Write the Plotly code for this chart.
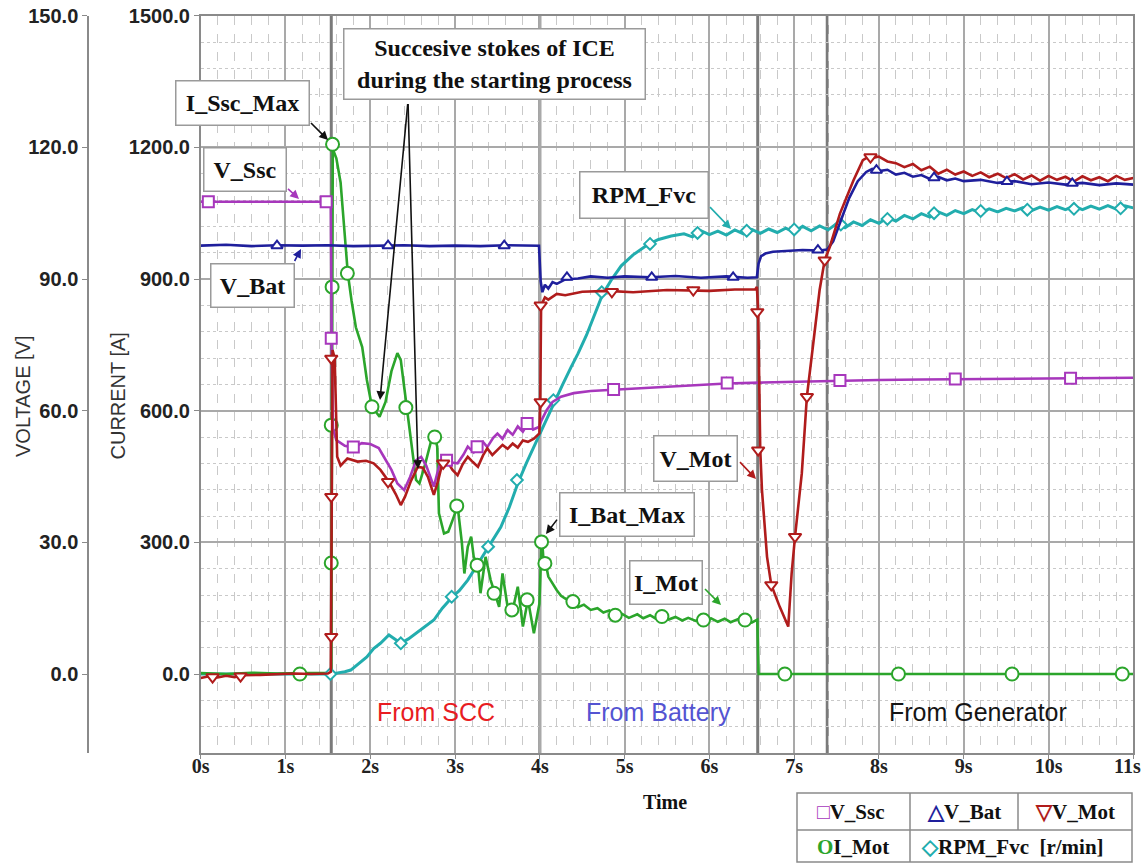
import plotly.graph_objects as go

W, H = 1144, 866

# ---------------- data ----------------
# Voltages [V]
T_SSC = [
    0.00, 0.30, 0.60, 0.90, 1.20, 1.50, 1.535, 1.545, 1.56, 1.60,
    1.70, 1.80, 1.90, 2.00, 2.10, 2.16, 2.25, 2.32, 2.40, 2.47,
    2.54, 2.60, 2.66, 2.75, 2.83, 2.90, 2.96, 3.03, 3.10, 3.15,
    3.22, 3.27, 3.33, 3.38, 3.45, 3.50, 3.56, 3.62, 3.68, 3.74,
    3.80, 3.86, 3.92, 3.99, 4.02, 4.08, 4.15, 4.25, 4.40, 4.60,
    4.90, 5.30, 5.80, 6.20, 6.60, 7.00, 7.50, 8.00, 8.50, 9.00,
    9.50, 10.0, 10.5, 11.0]
V_SSC = [
    107.6, 107.6, 107.7, 107.6, 107.6, 107.6, 107.6, 76.0, 56.0, 53.3,
    52.0, 51.6, 52.6, 52.4, 51.5, 49.5, 46.5, 43.4, 41.9, 44.9,
    48.7, 49.5, 47.5, 42.7, 48.7, 48.9, 48.2, 48.0, 50.0, 51.8,
    50.5, 51.8, 52.9, 51.7, 53.8, 54.8, 53.6, 55.6, 54.5, 56.4,
    55.2, 57.1, 55.7, 56.3, 57.8, 60.1, 62.0, 63.2, 64.0, 64.5,
    64.8, 65.3, 65.7, 66.2, 66.4, 66.6, 66.8, 67.0, 67.1, 67.2,
    67.3, 67.4, 67.4, 67.5]

T_BAT = [
    0.00, 0.30, 0.60, 0.90, 1.20, 1.50, 1.80, 2.10, 2.40, 2.70,
    3.00, 3.30, 3.60, 3.99, 4.01, 4.03, 4.06, 4.10, 4.15, 4.20,
    4.30, 4.45, 4.60, 4.80, 5.00, 5.30, 5.60, 5.90, 6.20, 6.45,
    6.56, 6.58, 6.61, 6.66, 6.75, 6.90, 7.10, 7.30, 7.39, 7.46,
    7.55, 7.65, 7.75, 7.85, 7.92, 8.00, 8.10, 8.20, 8.30, 8.40,
    8.50, 8.60, 8.70, 8.80, 8.90, 9.00, 9.20, 9.40, 9.60, 9.80,
    10.0, 10.2, 10.4, 10.6, 10.8, 11.0]
V_BAT = [
    97.6, 97.8, 97.5, 97.7, 97.6, 97.7, 97.5, 97.6, 97.7, 97.5,
    97.6, 97.5, 97.7, 97.6, 89.5, 87.0, 88.7, 87.8, 89.3, 88.9,
    89.9, 90.1, 90.6, 90.3, 90.6, 90.4, 90.7, 90.3, 90.6, 90.3,
    90.4, 93.5, 95.2, 95.8, 96.2, 96.4, 96.6, 96.5, 96.7, 98.6,
    103.5, 108.5, 112.3, 114.4, 115.1, 114.6, 114.9, 113.8, 114.2, 113.3,
    113.7, 112.8, 113.3, 112.5, 112.9, 112.3, 112.6, 111.9, 112.3, 111.6,
    112.0, 111.5, 111.9, 111.4, 111.8, 111.5]

T_MOT = [
    0.00, 0.10, 0.20, 0.30, 0.40, 0.50, 0.70, 0.90, 1.10, 1.30,
    1.50, 1.535, 1.545, 1.555, 1.58, 1.61, 1.65, 1.73, 1.85, 1.95,
    2.04, 2.12, 2.22, 2.30, 2.36, 2.41, 2.48, 2.56, 2.62, 2.68,
    2.75, 2.80, 2.85, 2.91, 2.97, 3.03, 3.09, 3.15, 3.21, 3.27,
    3.33, 3.38, 3.44, 3.50, 3.56, 3.62, 3.68, 3.74, 3.80, 3.86,
    3.93, 3.995, 4.005, 4.015, 4.03, 4.06, 4.10, 4.20, 4.30, 4.50,
    4.80, 5.10, 5.50, 6.00, 6.30, 6.54, 6.56, 6.575, 6.60, 6.62,
    6.68, 6.73, 6.83, 6.93, 6.97, 7.01, 7.09, 7.15, 7.23, 7.30,
    7.36, 7.42, 7.54, 7.70, 7.81, 7.88, 7.93, 8.00, 8.10, 8.20,
    8.30, 8.40, 8.50, 8.60, 8.70, 8.80, 8.90, 9.00, 9.10, 9.20,
    9.30, 9.40, 9.50, 9.60, 9.70, 9.80, 9.90, 10.0, 10.1, 10.2,
    10.3, 10.4, 10.5, 10.6, 10.7, 10.8, 10.9, 11.0]
V_MOT = [
    -0.9, -0.5, -0.8, -0.4, -0.7, -0.3, -0.2, 0.0, 0.1, 0.0,
    0.1, 0.5, 40.0, 73.8, 72.0, 49.5, 47.5, 49.1, 48.4, 48.6,
    48.0, 46.5, 43.8, 41.0, 38.5, 40.4, 44.0, 47.2, 47.0, 44.9,
    40.8, 44.0, 48.0, 48.4, 46.5, 45.3, 47.8, 49.5, 48.3, 47.2,
    49.8, 51.4, 49.9, 51.0, 52.2, 51.3, 52.5, 51.6, 53.2, 52.9,
    53.6, 54.8, 62.0, 84.0, 84.6, 85.8, 85.3, 86.6, 86.3, 87.1,
    87.3, 87.0, 87.5, 87.3, 87.6, 87.6, 88.2, 83.0, 51.0, 41.9,
    26.7, 20.3, 15.3, 10.8, 22.9, 31.3, 45.7, 63.2, 76.1, 87.5,
    94.3, 97.3, 104.9, 112.5, 117.1, 117.9, 117.6, 117.9, 116.8, 116.4,
    115.5, 116.2, 114.8, 115.6, 114.0, 114.9, 113.8, 114.5, 113.5, 114.3,
    113.2, 114.0, 113.0, 113.9, 112.7, 113.6, 112.4, 113.5, 112.6, 113.3,
    112.2, 113.4, 112.5, 113.2, 112.3, 113.5, 112.6, 113.0]

# Currents [A]
T_IMOT = [
    0.00, 0.30, 0.60, 0.90, 1.20, 1.50, 1.54, 1.552, 1.558, 1.57,
    1.60, 1.65, 1.70, 1.735, 1.78, 1.83, 1.905, 1.96, 2.02, 2.11,
    2.18, 2.25, 2.32, 2.36, 2.40, 2.43, 2.47, 2.54, 2.58, 2.65,
    2.73, 2.76, 2.79, 2.81, 2.87, 2.92, 2.97, 3.03, 3.08, 3.11,
    3.15, 3.19, 3.22, 3.27, 3.30, 3.36, 3.42, 3.47, 3.52, 3.56,
    3.62, 3.68, 3.74, 3.80, 3.86, 3.93, 3.97, 3.995, 4.02, 4.035,
    4.05, 4.07, 4.10, 4.15, 4.20, 4.25, 4.30, 4.39, 4.45, 4.52,
    4.60, 4.68, 4.75, 4.82, 4.89, 4.96, 5.05, 5.15, 5.22, 5.30,
    5.37, 5.44, 5.52, 5.60, 5.68, 5.75, 5.84, 5.93, 6.02, 6.10,
    6.18, 6.25, 6.34, 6.42, 6.50, 6.565, 6.58, 7.00, 8.00, 9.00,
    10.0, 11.0]
I_MOT = [
    2, 0, 3, 1, 2, 2, 5, 900, 1207, 1190,
    1175, 1120, 1000, 913, 850, 790, 745, 670, 609, 586,
    620, 690, 731, 715, 654, 608, 556, 442, 434, 480,
    540, 542, 518, 366, 320, 324, 350, 383, 300, 229,
    290, 313, 267, 248, 184, 267, 214, 184, 153, 229,
    153, 146, 199, 108, 169, 93, 138, 160, 301, 282,
    240, 252, 222, 205, 191, 178, 172, 165, 152, 158,
    146, 150, 140, 145, 134, 138, 128, 136, 127, 134,
    126, 131, 124, 130, 122, 128, 121, 123, 127, 119,
    126, 118, 125, 123, 117, 124, 0, 0, 0, 0,
    0, 0]

# Speed [r/min] (drawn on the current scale)
T_RPM = [
    0.00, 0.50, 1.00, 1.54, 1.60, 1.70, 1.77, 1.85, 1.96, 2.04,
    2.12, 2.22, 2.30, 2.36, 2.45, 2.55, 2.65, 2.75, 2.85, 2.97,
    3.05, 3.15, 3.25, 3.40, 3.54, 3.64, 3.74, 3.84, 3.93, 4.00,
    4.08, 4.17, 4.27, 4.37, 4.45, 4.55, 4.64, 4.74, 4.85, 4.96,
    5.10, 5.27, 5.40, 5.55, 5.70, 5.80, 5.90, 6.00, 6.10, 6.20,
    6.30, 6.40, 6.50, 6.60, 6.70, 6.80, 6.90, 7.00, 7.10, 7.20,
    7.30, 7.40, 7.50, 7.60, 7.70, 7.80, 7.90, 8.00, 8.10, 8.20,
    8.30, 8.40, 8.50, 8.60, 8.70, 8.80, 8.90, 9.00, 9.10, 9.20,
    9.30, 9.40, 9.50, 9.60, 9.70, 9.80, 9.90, 10.0, 10.1, 10.2,
    10.3, 10.4, 10.5, 10.6, 10.7, 10.8, 10.9, 11.0]
RPM = [
    0, 0, 0, 0, 2, 5, 9, 22, 39, 58,
    70, 89, 78, 70, 80, 95, 108, 123, 150, 176,
    190, 214, 245, 290, 335, 380, 434, 480, 518, 545,
    580, 620, 660, 700, 730, 772, 815, 865, 900, 930,
    955, 978, 990, 998, 1003, 996, 1010, 1001, 1009, 1000,
    1012, 1003, 1013, 1004, 1014, 1006, 1016, 1007, 1020, 1010,
    1021, 1012, 1026, 1017, 1030, 1022, 1035, 1027, 1040, 1032,
    1045, 1037, 1049, 1041, 1053, 1045, 1056, 1049, 1058, 1051,
    1060, 1053, 1061, 1055, 1063, 1056, 1064, 1057, 1065, 1058,
    1066, 1058, 1066, 1059, 1067, 1059, 1067, 1062]

# Marker points
SSC_MK_T = [0.09, 1.48, 1.54, 1.80, 2.90, 3.26, 3.85, 4.87, 6.21, 7.54, 8.90, 10.26]
SSC_MK_V = [107.6, 107.6, 76.5, 51.7, 48.7, 51.8, 57.1, 64.8, 66.3, 66.9, 67.2, 67.4]
BAT_MK_T = [0.90, 2.21, 3.58, 4.32, 5.32, 6.28, 7.28, 7.97, 8.65, 9.51, 10.28]
BAT_MK_V = [97.6, 97.6, 97.6, 90.4, 90.4, 90.4, 96.6, 114.8, 113.1, 112.2, 111.8]
MOT_MK_T = [0.14, 0.47, 1.54, 1.54, 1.54, 2.21, 2.86, 4.01, 4.01, 4.85, 5.81,
            6.565, 6.575, 6.73, 7.01, 7.15, 7.36, 7.90]
MOT_MK_V = [-0.7, -0.5, 8.5, 40.4, 71.9, 43.8, 48.0, 62.0, 84.0, 87.1, 87.5,
            82.5, 51.0, 20.3, 31.3, 63.2, 94.3, 117.8]
IM_MK_T = [1.17, 1.54, 1.54, 1.55, 1.555, 1.73, 2.02, 2.42, 2.76, 3.02, 3.26, 3.46,
           3.67, 3.85, 4.02, 4.06, 4.39, 4.89, 5.44, 5.93, 6.42, 6.89, 8.23, 9.57, 10.87]
IM_MK_A = [0, 253, 567, 882, 1207, 913, 609, 607, 540, 383, 248, 184,
           146, 169, 301, 252, 165, 134, 131, 123, 123, 0, 0, 0, 0]
RPM_MK_T = [1.53, 2.36, 2.96, 3.39, 3.73, 4.16, 4.73, 5.30, 5.86, 6.44, 7.00,
            7.55, 8.10, 8.65, 9.20, 9.75, 10.30, 10.85]
RPM_MK_A = [0, 70, 176, 290, 442, 624, 870, 980, 1005, 1010, 1013,
            1024, 1037, 1050, 1055, 1058, 1060, 1061]

# Stage boundaries [s]
STAGE_T = [1.54, 4.0, 6.57, 7.39]

# ---------------- layout helpers ----------------
def px(x):
    return x / W


def py(y):
    return 1 - y / H


X0, X1 = 200.7, 1133.3     # plot area left/right (pixels)
Y_TOP, Y_BOT = 15.7, 753.0  # plot area top/bottom (pixels)

C_SSC = "#a737bc"
C_BAT = "#1f1f9c"
C_MOT = "#b01c1c"
C_IMOT = "#2ba52b"
C_RPM = "#22adae"
GRID = "#a9a9a9"
MINOR = "#c9c9c9"

fig = go.Figure()


def line(t, v, color, yaxis, width=2.6):
    fig.add_trace(go.Scatter(x=t, y=v, mode="lines", yaxis=yaxis,
                             line=dict(color=color, width=width), hoverinfo="skip"))


def marks(t, v, color, symbol, size, yaxis):
    fig.add_trace(go.Scatter(x=t, y=v, mode="markers", yaxis=yaxis,
                             marker=dict(symbol=symbol, size=size, color="white",
                                         line=dict(color=color, width=2)),
                             hoverinfo="skip"))


line(T_RPM, RPM, C_RPM, "y", 3)
line(T_SSC, V_SSC, C_SSC, "y2")
line(T_BAT, V_BAT, C_BAT, "y2")
line(T_MOT, V_MOT, C_MOT, "y2")
line(T_IMOT, I_MOT, C_IMOT, "y")
marks(RPM_MK_T, RPM_MK_A, C_RPM, "diamond", 9, "y")
marks(SSC_MK_T, SSC_MK_V, C_SSC, "square", 11, "y2")
marks(BAT_MK_T, BAT_MK_V, C_BAT, "triangle-up", 10, "y2")
marks(MOT_MK_T, MOT_MK_V, C_MOT, "triangle-down", 11, "y2")
marks(IM_MK_T, IM_MK_A, C_IMOT, "circle", 13, "y")

NUMFONT = dict(family="Liberation Sans", size=20, color="#222", weight="bold")
SERIF = "Liberation Serif"
XTICKFONT = dict(family=SERIF, size=20, color="#222", weight="bold")

shapes = []
for t in STAGE_T:
    shapes.append(dict(type="line", xref="x", yref="paper", x0=t, x1=t,
                       y0=py(Y_BOT), y1=py(Y_TOP), line=dict(color="#7a7a7a", width=3),
                       layer="below"))

# legend table (bottom right)
LX0, LX1, LY0, LYM, LY1 = 797, 1132, 793, 830, 862
shapes.append(dict(type="rect", xref="paper", yref="paper", x0=px(LX0), x1=px(LX1),
                   y0=py(LY1), y1=py(LY0), line=dict(color="#8a8a8a", width=1.5)))
shapes.append(dict(type="line", xref="paper", yref="paper", x0=px(LX0), x1=px(LX1),
                   y0=py(LYM), y1=py(LYM), line=dict(color="#8a8a8a", width=1.5)))
shapes.append(dict(type="line", xref="paper", yref="paper", x0=px(910), x1=px(910),
                   y0=py(LY1), y1=py(LY0), line=dict(color="#8a8a8a", width=1.5)))
shapes.append(dict(type="line", xref="paper", yref="paper", x0=px(1018), x1=px(1018),
                   y0=py(LYM), y1=py(LY0), line=dict(color="#8a8a8a", width=1.5)))

ann = []

# callout boxes: text, center x, center y, box width, box height
BOXES = [
    ("Succesive stokes of ICE<br>during the starting process", 494.5, 64, 303, 72),
    ("I_Ssc_Max", 242.5, 103, 135, 46),
    ("V_Ssc", 245, 169.5, 84, 45),
    ("V_Bat", 252.5, 285.5, 85, 45),
    ("RPM_Fvc", 644, 195, 130, 48),
    ("V_Mot", 695.5, 458.5, 85, 47),
    ("I_Bat_Max", 627, 514.5, 136, 45),
    ("I_Mot", 666, 582.5, 74, 45),
]
for text, cx, cy, bw, bh in BOXES:
    ann.append(dict(text=text, x=px(cx), y=py(cy), xref="paper", yref="paper",
                    xanchor="center", yanchor="middle", showarrow=False,
                    font=dict(family=SERIF, size=24, color="#111", weight="bold"),
                    bgcolor="white", bordercolor="#9a9a9a", borderwidth=1.5,
                    borderpad=3, width=bw - 9, height=bh - 9, align="center"))

# arrows: tail x, tail y, tip x, tip y, colour
ARROWS = [
    (309, 121, 328, 140, "#111"),
    (286, 187, 299, 199, C_SSC),
    (293, 264, 301, 249, C_BAT),
    (708, 205, 731, 229, C_RPM),
    (738, 460, 756, 479, C_MOT),
    (559, 517, 546, 534, "#111"),
    (703, 587, 721, 605, C_IMOT),
    (408, 101, 380, 400, "#111"),
    (408, 101, 418, 469, "#111"),
]
for tx, ty, hx, hy, col in ARROWS:
    ann.append(dict(text=" ", x=px(hx), y=py(hy), xref="paper", yref="paper",
                    ax=tx - hx, ay=ty - hy, axref="pixel", ayref="pixel",
                    showarrow=True, arrowhead=2, arrowsize=1.1, arrowwidth=1.6,
                    arrowcolor=col, font=dict(size=2)))

# stage labels
for text, cx, col in [("From SCC", 436, "#e81c22"), ("From Battery", 658, "#5454d2"),
                      ("From Generator", 978, "#151515")]:
    ann.append(dict(text=text, x=px(cx), y=py(712), xref="paper", yref="paper",
                    showarrow=False, xanchor="center", yanchor="middle",
                    font=dict(family="Liberation Sans", size=25, color=col)))

# last time label, which sits on the page edge
ann.append(dict(text="11s", x=px(1143), y=py(766), xref="paper", yref="paper",
                showarrow=False, xanchor="right", yanchor="middle", font=XTICKFONT))

# axis titles
ann.append(dict(text="VOLTAGE [V]", x=px(23), y=py(396), xref="paper", yref="paper",
                textangle=-90, showarrow=False, xanchor="center", yanchor="middle",
                font=dict(family="Liberation Sans", size=20, color="#333")))
ann.append(dict(text="CURRENT [A]", x=px(117.5), y=py(396), xref="paper", yref="paper",
                textangle=-90, showarrow=False, xanchor="center", yanchor="middle",
                font=dict(family="Liberation Sans", size=20, color="#333")))
ann.append(dict(text="Time", x=px(665), y=py(802), xref="paper", yref="paper",
                showarrow=False, xanchor="center", yanchor="middle",
                font=dict(family=SERIF, size=20, color="#111", weight="bold")))

# legend entries
LEG = [
    (f'<span style="color:{C_SSC}">□</span>V_Ssc', 851, 812),
    (f'<span style="color:{C_BAT}">△</span>V_Bat', 964, 812),
    (f'<span style="color:{C_MOT}">▽</span>V_Mot', 1075, 812),
    (f'<span style="color:{C_IMOT}">O</span>I_Mot', 853, 847),
    (f'<span style="color:{C_RPM}">◇</span>RPM_Fvc  [r/min]', 1012, 847),
]
for text, cx, cy in LEG:
    ann.append(dict(text=text, x=px(cx), y=py(cy), xref="paper", yref="paper",
                    showarrow=False, xanchor="center", yanchor="middle",
                    font=dict(family=SERIF, size=21, color="#111", weight="bold")))

fig.update_layout(
    width=W, height=H, template="none",
    margin=dict(l=0, r=0, t=0, b=0, autoexpand=False),
    paper_bgcolor="white", plot_bgcolor="white", showlegend=False,
    xaxis=dict(domain=[px(X0), px(X1)], range=[0, 11], tick0=0, dtick=1,
               ticksuffix="s", tickformat="d", automargin=False,
               showgrid=True, gridcolor=GRID, gridwidth=1.5,
               minor=dict(dtick=0.2, tick0=0, showgrid=True, gridcolor=MINOR,
                          griddash="dash", gridwidth=1),
               showline=True, linecolor="#8a8a8a", linewidth=1.5, mirror=True,
               ticks="outside", ticklen=4, tickcolor="#8a8a8a", zeroline=False,
               ticklabelstandoff=-10, tickfont=XTICKFONT),
    yaxis=dict(domain=[py(Y_BOT), py(Y_TOP)], range=[-180, 1500], tick0=0, dtick=300,
               tickformat=".1f", automargin=False,
               showgrid=True, gridcolor=GRID, gridwidth=1.5,
               minor=dict(dtick=60, tick0=0, showgrid=True, gridcolor=MINOR,
                          griddash="dot", gridwidth=1.2),
               showline=True, linecolor="#8a8a8a", linewidth=1.5, mirror=True,
               ticks="outside", ticklen=5, tickcolor="#8a8a8a", zeroline=False,
               tickfont=NUMFONT),
    yaxis2=dict(overlaying="y", anchor="free", position=px(88.3), side="left",
                range=[-18, 150], tick0=0, dtick=30, tickformat=".1f",
                automargin=False, showgrid=False, zeroline=False,
                showline=True, linecolor="#8a8a8a", linewidth=2,
                ticks="outside", ticklen=5, tickcolor="#8a8a8a", tickfont=NUMFONT),
    shapes=shapes, annotations=ann,
)

fig.write_html("out.html",
               config={"displayModeBar": False},
               post_script="document.body.style.margin='0px';"
                           "document.body.style.padding='0px';"
                           "document.body.style.overflow='hidden';")
